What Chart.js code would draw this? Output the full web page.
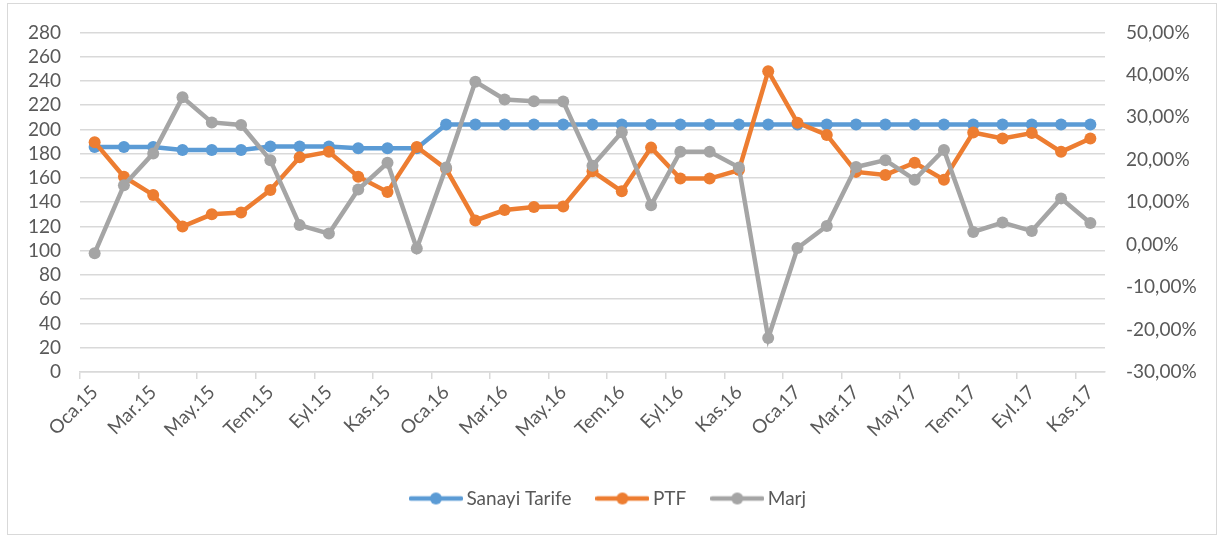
<!DOCTYPE html>
<html>
<head>
<meta charset="utf-8">
<script src="https://cdn.jsdelivr.net/npm/chart.js@4.4.1/dist/chart.umd.min.js"></script>
<style>
  html, body { margin: 0; padding: 0; background: #fff; }
  #wrap { position: relative; width: 1221px; height: 539px; }
  #frame { position: absolute; left: 7px; top: 3px; width: 1210px; height: 532px; border: 1.5px solid #d9d9d9; box-sizing: border-box; pointer-events: none; }
  canvas { position: absolute; left: 0; top: 0; }
</style>
</head>
<body>
<div id="wrap">
  <canvas id="c" width="1221" height="539"></canvas>
  <div id="frame"></div>
</div>
<script>
const categories = [
  'Oca.15','Şub.15','Mar.15','Nis.15','May.15','Haz.15','Tem.15','Ağu.15','Eyl.15','Eki.15','Kas.15','Ara.15',
  'Oca.16','Şub.16','Mar.16','Nis.16','May.16','Haz.16','Tem.16','Ağu.16','Eyl.16','Eki.16','Kas.16','Ara.16',
  'Oca.17','Şub.17','Mar.17','Nis.17','May.17','Haz.17','Tem.17','Ağu.17','Eyl.17','Eki.17','Kas.17'
];
const sanayiTarife = [
  185.5,185.5,185.5,183,183,183,186,186,186,184.5,184.5,184.5,
  204,204,204,204,204,204,204,204,204,204,204,204,
  204,204,204,204,204,204,204,204,204,204,204
];
const ptf = [
  189.5,161,146,120,130,131.5,150,177,181.5,161,148.5,185.5,
  167.5,125,133.5,136,136.5,165.5,149,185,159.5,159.5,166.5,248,
  205.5,195.5,165,162.5,172.5,158.5,197.5,192.5,197,181.5,192.5
];
const marj = [
  -2.0,14.0,21.5,34.7,28.8,28.2,19.9,4.6,2.6,13.0,19.3,-0.9,
  18.2,38.4,34.2,33.8,33.7,18.6,26.5,9.3,21.9,21.9,18.2,-22.0,
  -0.8,4.4,18.3,19.9,15.3,22.3,3.0,5.2,3.2,10.9,5.1
];
const leftTicks = { min: 0, max: 280, step: 20 };
const rightTicks = { min: -30, max: 50, step: 10 };
const seriesNames = ['Sanayi Tarife', 'PTF', 'Marj'];
const seriesColors = ['#5B9BD5', '#ED7D31', '#A5A5A5'];

const FONT = 'Lato';
const FS = 19;
const TXT = '#595959';
const GRID = '#d9d9d9';

function legendSymbol(color) {
  const cv = document.createElement('canvas');
  cv.width = 54; cv.height = 14;
  const g = cv.getContext('2d');
  g.strokeStyle = color; g.lineWidth = 4.5; g.lineCap = 'round';
  g.beginPath(); g.moveTo(2, 7); g.lineTo(52, 7); g.stroke();
  g.fillStyle = color;
  g.beginPath(); g.arc(27, 7, 6, 0, Math.PI * 2); g.fill();
  return cv;
}
const symbols = seriesColors.map(legendSymbol);

function ds(i, data, axis, order) {
  return {
    label: seriesNames[i], data, yAxisID: axis, order,
    borderColor: seriesColors[i], backgroundColor: seriesColors[i],
    borderWidth: 4.5, pointRadius: 6, pointHoverRadius: 6,
    pointBorderWidth: 0, tension: 0
  };
}

new Chart(document.getElementById('c'), {
  type: 'line',
  data: {
    labels: categories,
    datasets: [
      ds(0, sanayiTarife, 'y', 2),
      ds(1, ptf, 'y', 1),
      ds(2, marj, 'y1', 0)
    ]
  },
  options: {
    responsive: false,
    animation: false,
    layout: { padding: { top: 32, left: 0, right: 0, bottom: 21 } },
    plugins: {
      tooltip: { enabled: false },
      legend: {
        position: 'bottom',
        labels: {
          usePointStyle: true,
          pointStyleWidth: 42,
          padding: 30,
          color: TXT,
          font: { family: FONT, size: FS },
          sort: (a, b) => a.datasetIndex - b.datasetIndex,
          generateLabels: (chart) => {
            const items = Chart.defaults.plugins.legend.labels.generateLabels(chart);
            items.forEach(it => { it.pointStyle = symbols[it.datasetIndex]; });
            return items;
          }
        }
      }
    },
    scales: {
      x: {
        offset: true,
        grid: {
          offset: true, drawOnChartArea: false, drawTicks: true, tickLength: 7,
          color: (ctx) => (ctx.index % 2 === 0 ? GRID : 'rgba(0,0,0,0)'),
          lineWidth: 1.5
        },
        border: { display: true, color: GRID, width: 1.5 },
        ticks: {
          autoSkip: false, minRotation: 45, maxRotation: 45, padding: 2,
          color: TXT, font: { family: FONT, size: FS },
          callback: function (v, i) { return i % 2 === 0 ? categories[i] : ''; }
        },
        afterFit: (s) => { s.height = 87; }
      },
      y: {
        position: 'left',
        min: leftTicks.min, max: leftTicks.max,
        ticks: { stepSize: leftTicks.step, autoSkip: false, color: TXT, font: { family: FONT, size: FS }, padding: 19 },
        grid: { color: GRID, lineWidth: 1.5, drawTicks: false },
        border: { display: false },
        afterFit: (s) => { s.width = 80; }
      },
      y1: {
        position: 'right',
        min: rightTicks.min, max: rightTicks.max,
        ticks: {
          stepSize: rightTicks.step, autoSkip: false, color: TXT, font: { family: FONT, size: FS }, padding: 21,
          callback: (v) => v.toFixed(2).replace('.', ',') + '%'
        },
        grid: { drawOnChartArea: false, drawTicks: false },
        border: { display: false },
        afterFit: (s) => { s.width = 116; }
      }
    }
  }
});
</script>
</body>
</html>
